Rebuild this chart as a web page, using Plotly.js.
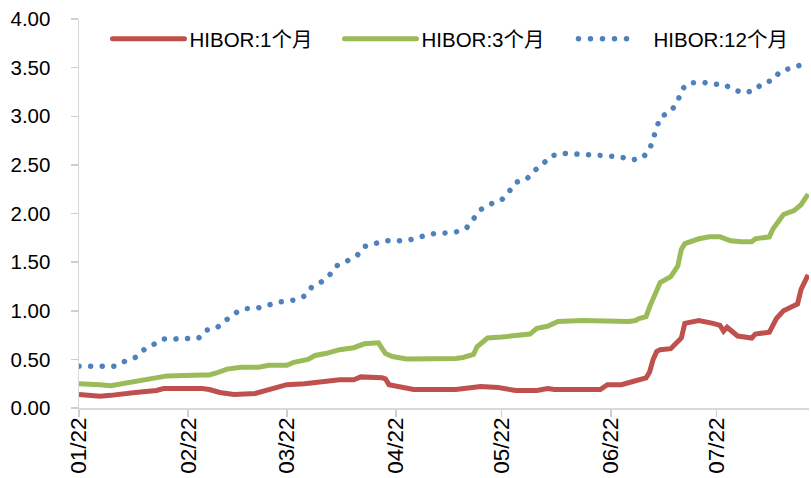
<!DOCTYPE html>
<html>
<head>
<meta charset="utf-8">
<script src="https://cdn.plot.ly/plotly-3.0.1.min.js"></script>
<style>
  html, body { margin: 0; padding: 0; background: #ffffff; }
  #chart { width: 811px; height: 478px; }
</style>
</head>
<body>
<div id="chart"></div>
<script>
// ---- Data ----
const seriesNames = ["HIBOR:1个月", "HIBOR:3个月", "HIBOR:12个月"];

const dates1M = ["2022-01-01","2022-01-04","2022-01-07","2022-01-10","2022-01-12","2022-01-17","2022-01-23","2022-01-25",
  "2022-02-05","2022-02-07","2022-02-10","2022-02-14","2022-02-20","2022-02-23","2022-02-24","2022-02-27",
  "2022-03-01","2022-03-06","2022-03-08","2022-03-12","2022-03-16","2022-03-20","2022-03-22","2022-03-28","2022-03-29","2022-03-30",
  "2022-04-04","2022-04-06","2022-04-11","2022-04-17","2022-04-18","2022-04-25","2022-04-30",
  "2022-05-05","2022-05-11","2022-05-14","2022-05-16","2022-05-22","2022-05-28","2022-05-29","2022-05-31",
  "2022-06-04","2022-06-07","2022-06-11","2022-06-12","2022-06-13","2022-06-14","2022-06-15","2022-06-18","2022-06-20","2022-06-21","2022-06-22","2022-06-26","2022-06-30",
  "2022-07-02","2022-07-03","2022-07-04","2022-07-07","2022-07-11","2022-07-12","2022-07-16","2022-07-18","2022-07-20","2022-07-24","2022-07-25","2022-07-27"];
const values1M = [0.14,0.13,0.12,0.13,0.14,0.16,0.18,0.20,
  0.20,0.19,0.16,0.14,0.15,0.18,0.20,0.22,
  0.24,0.25,0.26,0.27,0.29,0.29,0.32,0.31,0.30,0.24,
  0.20,0.19,0.19,0.20,0.19,0.22,0.21,
  0.18,0.18,0.20,0.19,0.19,0.20,0.19,0.24,
  0.24,0.27,0.31,0.37,0.50,0.58,0.60,0.61,0.69,0.72,0.87,0.90,0.87,
  0.85,0.79,0.83,0.74,0.72,0.76,0.78,0.92,1.00,1.07,1.22,1.37];

const dates3M = ["2022-01-01","2022-01-04","2022-01-07","2022-01-10","2022-01-13","2022-01-16","2022-01-19","2022-01-23","2022-01-26",
  "2022-02-05","2022-02-07","2022-02-09","2022-02-12","2022-02-16","2022-02-21","2022-02-24",
  "2022-03-01","2022-03-03","2022-03-07","2022-03-09","2022-03-12","2022-03-16","2022-03-20","2022-03-23","2022-03-27","2022-03-29","2022-03-31",
  "2022-04-04","2022-04-11","2022-04-18","2022-04-20","2022-04-23","2022-04-24","2022-04-27",
  "2022-05-01","2022-05-05","2022-05-09","2022-05-11","2022-05-14","2022-05-17","2022-05-24",
  "2022-06-06","2022-06-08","2022-06-09","2022-06-11","2022-06-12","2022-06-13","2022-06-15","2022-06-18","2022-06-20","2022-06-21","2022-06-22","2022-06-26","2022-06-29",
  "2022-07-02","2022-07-05","2022-07-08","2022-07-11","2022-07-12","2022-07-16","2022-07-17","2022-07-20","2022-07-23","2022-07-25","2022-07-27"];
const values3M = [0.25,0.25,0.24,0.23,0.25,0.26,0.29,0.31,0.33,
  0.34,0.34,0.36,0.40,0.42,0.42,0.44,
  0.44,0.47,0.50,0.54,0.56,0.60,0.62,0.66,0.67,0.56,0.53,
  0.505,0.505,0.51,0.52,0.55,0.63,0.72,
  0.73,0.75,0.76,0.82,0.84,0.89,0.90,
  0.89,0.90,0.92,0.94,1.04,1.13,1.29,1.35,1.46,1.63,1.69,1.74,1.76,
  1.76,1.72,1.71,1.71,1.74,1.76,1.84,1.99,2.03,2.09,2.20];

const dates12M = ["2022-01-01","2022-01-04","2022-01-08","2022-01-11","2022-01-14","2022-01-17","2022-01-19","2022-01-22","2022-01-25","2022-01-28",
  "2022-02-01","2022-02-04","2022-02-06","2022-02-09","2022-02-12","2022-02-15","2022-02-17","2022-02-21","2022-02-24","2022-02-27",
  "2022-03-03","2022-03-06","2022-03-08","2022-03-11","2022-03-13","2022-03-15","2022-03-18","2022-03-21","2022-03-23","2022-03-26","2022-03-29",
  "2022-04-02","2022-04-05","2022-04-08","2022-04-11","2022-04-15","2022-04-18","2022-04-21","2022-04-23","2022-04-25","2022-04-28",
  "2022-05-01","2022-05-03","2022-05-05","2022-05-08","2022-05-10","2022-05-13","2022-05-15","2022-05-18","2022-05-21","2022-05-25","2022-05-28",
  "2022-06-01","2022-06-04","2022-06-07","2022-06-10","2022-06-12","2022-06-13","2022-06-14","2022-06-15","2022-06-18","2022-06-20","2022-06-21","2022-06-23","2022-06-27","2022-06-30",
  "2022-07-03","2022-07-06","2022-07-09","2022-07-12","2022-07-14","2022-07-17","2022-07-19","2022-07-22","2022-07-26"];
const values12M = [0.43,0.43,0.43,0.43,0.48,0.52,0.59,0.65,0.71,0.71,
  0.71,0.72,0.80,0.82,0.91,0.99,1.02,1.03,1.06,1.09,
  1.11,1.15,1.24,1.30,1.36,1.46,1.51,1.57,1.66,1.69,1.72,
  1.72,1.73,1.76,1.79,1.80,1.81,1.85,1.95,2.04,2.10,
  2.14,2.22,2.32,2.35,2.43,2.52,2.59,2.62,2.61,2.61,2.60,
  2.59,2.58,2.55,2.57,2.66,2.77,2.89,2.99,3.05,3.15,3.27,3.34,3.35,3.33,
  3.33,3.27,3.24,3.27,3.34,3.37,3.46,3.50,3.54];

const yTickVals = [0,0.5,1,1.5,2,2.5,3,3.5,4];
const xTickVals = ["2022-01-01","2022-02-01","2022-03-01","2022-04-01","2022-05-01","2022-06-01","2022-07-01"];
const xTickText = ["01/22","02/22","03/22","04/22","05/22","06/22","07/22"];

// ---- Chart ----
const FONT = "Liberation Sans, Arial, 'Noto Sans CJK SC', sans-serif";
const traces = [
  { x: dates1M, y: values1M, name: seriesNames[0], type: "scatter", mode: "lines",
    line: { color: "#C0504D", width: 5 } },
  { x: dates3M, y: values3M, name: seriesNames[1], type: "scatter", mode: "lines",
    line: { color: "#9BBB59", width: 5 } },
  { x: dates12M, y: values12M, name: seriesNames[2], type: "scatter", mode: "lines",
    line: { color: "#4F81BD", width: 5.5, dash: "5px,6.5px" } }
];

const layout = {
  width: 811, height: 478,
  margin: { l: 79, r: 2, t: 19, b: 70, autoexpand: false },
  paper_bgcolor: "#ffffff", plot_bgcolor: "#ffffff",
  font: { family: FONT, color: "#000000" },
  showlegend: true,
  legend: {
    orientation: "h", x: 0.039, y: 1.0, xanchor: "left", yanchor: "top",
    font: { size: 20.5, family: FONT, color: "#000000" },
    entrywidth: 187, entrywidthmode: "pixels",
    bgcolor: "rgba(0,0,0,0)", traceorder: "normal"
  },
  xaxis: {
    type: "date", range: ["2022-01-01", "2022-07-27 06:00"],
    tickvals: xTickVals, ticktext: xTickText, tickangle: -90,
    ticks: "outside", ticklen: 7, tickcolor: "#cfcfcf", tickwidth: 1.5,
    showline: true, linecolor: "#d9d9d9", linewidth: 1.5,
    showgrid: false, zeroline: false, ticklabelstandoff: -8,
    tickfont: { size: 22.5, family: FONT, color: "#000000" }
  },
  yaxis: {
    range: [0, 4], tickvals: yTickVals, tickformat: ".2f",
    ticks: "outside", ticklen: 7, tickcolor: "#cfcfcf", tickwidth: 1.5,
    showline: true, linecolor: "#d9d9d9", linewidth: 1.5,
    showgrid: false, zeroline: false, ticklabelstandoff: 16,
    tickfont: { size: 20.5, family: FONT, color: "#000000" }
  }
};

// Styling tweaks: round dots for the 12M series, longer legend keys as in the reference
function styleTweaks() {
  const lines = document.querySelectorAll(".scatterlayer .trace");
  if (lines[2]) {
    lines[2].querySelectorAll("path.js-line").forEach(p => {
      p.style.strokeDasharray = "0.01px,11.6px";
      p.style.strokeLinecap = "round";
    });
  }
  const leg = document.querySelectorAll(".legend .traces");
  leg.forEach((g, i) => {
    const p = g.querySelector("path.js-line");
    const t = g.querySelector("text.legendtext");
    if (t) t.setAttribute("x", 82);
    if (p) {
      if (i === 2) {
        p.setAttribute("d", "M7,0h60");
        p.style.strokeDasharray = "0.01px,12px";
        p.style.strokeLinecap = "round";
      } else {
        p.setAttribute("d", "M5,0h72");
        p.style.strokeLinecap = "round";
      }
    }
  });
}

Plotly.newPlot("chart", traces, layout, { staticPlot: true, displayModeBar: false }).then(styleTweaks);
</script>
</body>
</html>
